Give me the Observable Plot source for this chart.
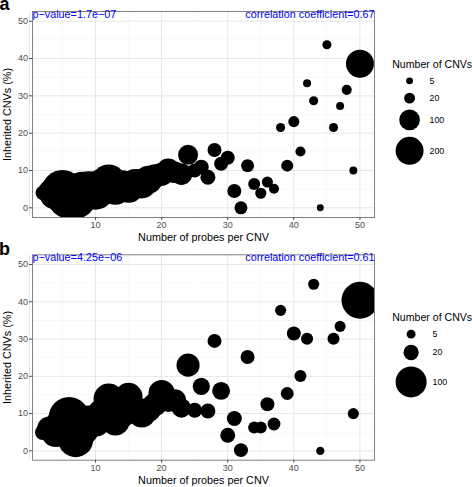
<!DOCTYPE html>
<html><head><meta charset="utf-8">
<script src="https://cdn.jsdelivr.net/npm/d3@7"></script>
<script src="https://cdn.jsdelivr.net/npm/@observablehq/plot@0.6"></script>
<style>
body{margin:0;background:#fff;font-family:"Liberation Sans",Arial,sans-serif;}
#root{position:relative;width:472px;height:487px;overflow:hidden;background:#fff;}
#root svg{position:absolute;overflow:visible;}
.lab{position:absolute;font-weight:bold;font-size:18px;line-height:18px;font-family:"Liberation Sans",Arial,sans-serif;}
</style></head><body><div id="root"></div>
<script>
// ---- Panel a data ----
const probesA = [2,3,4,5,6,7,8,9,10,11,12,13,14,15,16,17,18,19,20,21,22,23,24,25,26,27,28,29,30,31,32,33,34,35,36,37,38,39,40,41,42,43,44,45,46,47,48,49,50];
const inheritedA = [4,4.5,4,4.5,3,2.5,4.5,5,4.5,6,7,5,6,5.5,6.5,6.5,7.5,8.5,9,10,9.5,9,14.2,10,10.9,8.2,15.5,11.8,13.4,4.5,0,11.3,6.4,3.9,6.9,5.1,21.5,11.3,23.1,15.1,33.4,28.7,0,43.7,21.5,27.3,31.6,10,38.6];
const cnvsA = [40,110,300,490,540,450,400,350,380,300,320,260,240,250,220,230,200,140,130,140,110,110,93,39,46,46,39,39,39,39,32,32,26,21,21,16,12,26,21,16,8,12,5,12,12,8,16,8,200];
const legendA = [5,20,100,200];
const pTextA = "p\u2212value=1.7e\u221207";
const cTextA = "correlation coefficient=0.67";

// ---- Panel b data ----
const probesB = [2,3,4,5,6,7,8,9,10,11,12,13,14,15,16,17,18,19,20,21,22,23,24,25,26,27,28,29,30,31,32,33,34,35,36,37,38,39,40,41,42,43,44,46,47,49,50];
const inheritedB = [5,6,5,7,9,3,6,8,8,10,14,8,10,14.5,11,10,11,12.5,15.5,13.5,13.5,11.5,23,10.9,17.3,10.7,29.5,16.1,4.2,8.7,0.2,25.2,6.3,6.3,12.5,7.2,37.7,15.4,31.5,20.1,30.1,44.7,0,30.1,33.4,10,40.4];
const cnvsB = [20,57,90,120,180,130,120,100,100,90,95,85,80,80,70,80,60,55,70,50,50,35,52,19,26,19,16,29,19,19,16,16,11,11,16,13,9,13,16,11,11,9,4,11,9,9,146];
const legendB = [5,20,100];
const pTextB = "p\u2212value=4.25e\u221206";
const cTextB = "correlation coefficient=0.61";

// ---- shared labels / ticks ----
const xTitle = "Number of probes per CNV";
const yTitle = "Inherited CNVs (%)";
const legendTitle = "Number of CNVs";
const majorTicks = [0,10,20,30,40,50];
const minorTicks = [5,15,25,35,45];
const xTickVals = [10,20,30,40,50];

const FONT = "'Liberation Sans', Arial, sans-serif";
const root = document.getElementById("root");

function panel(o) {
  const data = o.x.map((d, i) => ({x: d, y: o.y[i], n: o.n[i]}));
  return Plot.plot({
    width: 378, height: o.height,
    marginLeft: 32, marginRight: 4, marginTop: o.marginTop, marginBottom: o.marginBottom,
    style: {fontFamily: FONT, fontSize: "9px", background: "transparent", overflow: "visible"},
    x: {domain: [0.47, 52.2], label: null},
    y: {domain: o.yDomain, label: null},
    r: {type: "sqrt", domain: o.rDomain, range: o.rRange},
    marks: [
      Plot.gridX(minorTicks, {stroke: "#f3f3f3", strokeOpacity: 1, strokeWidth: 0.6}),
      Plot.gridY(minorTicks, {stroke: "#f3f3f3", strokeOpacity: 1, strokeWidth: 0.6}),
      Plot.gridX(majorTicks, {stroke: "#e6e6e6", strokeOpacity: 1, strokeWidth: 1}),
      Plot.gridY(majorTicks, {stroke: "#e6e6e6", strokeOpacity: 1, strokeWidth: 1}),
      Plot.dot(data, {x: "x", y: "y", r: "n", fill: "black", stroke: null, clip: true}),
      Plot.frame({stroke: "#808080", strokeWidth: 1}),
      Plot.axisX(xTickVals, {tickSize: 3, tickPadding: 1.5, fontSize: 9, color: "#4d4d4d", label: null}),
      Plot.axisY(majorTicks, {tickSize: 3, tickPadding: 1.5, fontSize: 9, color: "#4d4d4d", label: null}),
      Plot.text([xTitle], {text: d => d, frameAnchor: "bottom", textAnchor: "middle", lineAnchor: "middle", dy: 20, fontSize: 10.8, fill: "black"}),
      Plot.text([yTitle], {text: d => d, frameAnchor: "left", textAnchor: "middle", lineAnchor: "middle", rotate: -90, dx: -25, fontSize: 10.8, fill: "black"}),
      Plot.text([o.pText], {text: d => d, frameAnchor: "top-left", textAnchor: "start", lineAnchor: "top", fill: "blue", fontSize: 10.8, dy: -1}),
      Plot.text([o.cText], {text: d => d, frameAnchor: "top-right", textAnchor: "end", lineAnchor: "top", fill: "blue", fontSize: 10.8, dy: -1})
    ]
  });
}

function legend(values, plot, o) {
  const rs = plot.scale("r");
  const radii = values.map(v => rs.apply(v));
  const w = Math.max(17.3, 2 * d3.max(radii) + 1);
  const keyLeft = 3.6;
  let cy = o.titleY + 7.7;
  const keys = values.map((v, i) => {
    const h = Math.max(17.3, 2 * radii[i] * 1.27);
    const k = {v, x: keyLeft + w / 2, lx: keyLeft + w + 5.5, y: cy + h / 2};
    cy += h;
    return k;
  });
  return Plot.plot({
    width: 80, height: cy + 5,
    margin: 0,
    axis: null,
    style: {fontFamily: FONT, background: "transparent", overflow: "visible"},
    x: {type: "identity", axis: null}, y: {type: "identity", axis: null},
    r: {type: "sqrt", domain: rs.domain, range: rs.range},
    marks: [
      Plot.text([legendTitle], {text: d => d, x: () => 0.7, y: () => o.titleY, textAnchor: "start", fontSize: 10.6, fill: "black"}),
      Plot.dot(keys, {x: "x", y: "y", r: "v", fill: "black", stroke: null}),
      Plot.text(keys, {x: "lx", y: "y", text: d => String(d.v), textAnchor: "start", fontSize: 8.8, fill: "black"})
    ]
  });
}

function place(el, left, top) { el.style.left = left + "px"; el.style.top = top + "px"; root.appendChild(el); }

const pa = panel({x: probesA, y: inheritedA, n: cnvsA, rDomain: [0, 540], rRange: [1.5, 22],
  yDomain: [-2.6, 52.6], pText: pTextA, cText: cTextA, height: 243, marginTop: 11, marginBottom: 26});
place(pa, 0, 0);
const pb = panel({x: probesB, y: inheritedB, n: cnvsB, rDomain: [0, 100], rRange: [1.3, 15.5],
  yDomain: [-2.5, 52.6], pText: pTextB, cText: cTextB, height: 244, marginTop: 11.3, marginBottom: 27.3});
place(pb, 0, 243);

place(legend(legendA, pa, {titleY: 9}), 391, 55);
place(legend(legendB, pb, {titleY: 9.3}), 391, 308);

const la = document.createElement("div"); la.className = "lab"; la.style.lineHeight = "8.5px"; la.textContent = "a"; place(la, -0.5, 0);
const lb = document.createElement("div"); lb.className = "lab"; lb.textContent = "b"; place(lb, -1, 239.7);
</script>
</body></html>
